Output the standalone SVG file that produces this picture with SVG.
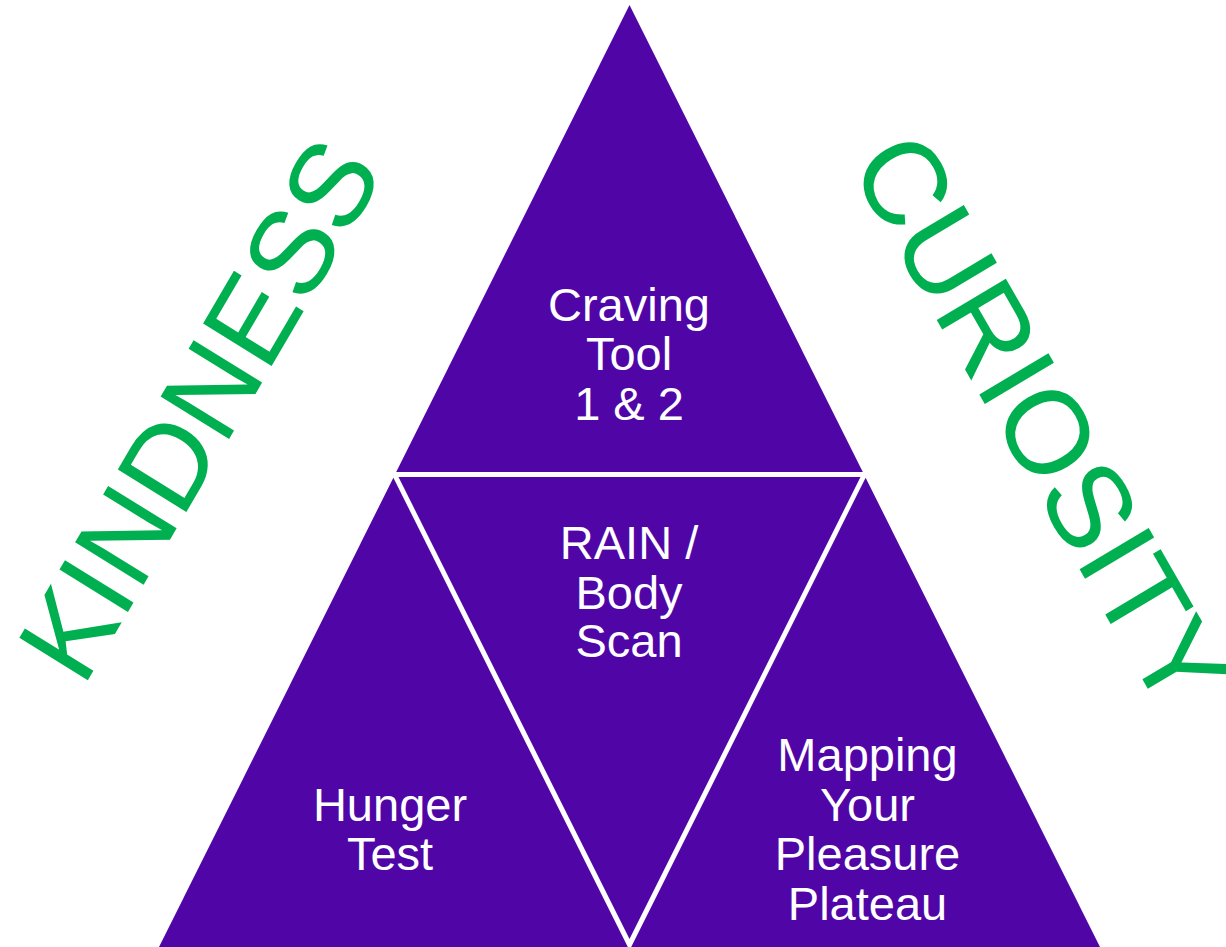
<svg xmlns="http://www.w3.org/2000/svg" width="1226" height="947" viewBox="0 0 1226 947">
  <style>
    .tri { fill: #5006A7; }
    .lbl { font-family: "Liberation Sans", Arial, sans-serif; font-size: 47px; fill: #FFFFFF; text-anchor: middle; }
    .word { font-family: "Liberation Sans", Arial, sans-serif; font-size: 117px; fill: #00B050; }
  </style>
  <rect x="0" y="0" width="1226" height="947" fill="#FFFFFF"/>
  <g id="connectors"></g>
  <g id="node-top">
    <polygon class="tri" points="629.5,5 396.2,472 862.8,472"/>
    <text class="lbl" x="629" y="320.5">Craving</text>
    <text class="lbl" x="629" y="370">Tool</text>
    <text class="lbl" x="629" y="420">1 &amp; 2</text>
  </g>
  <g id="node-middle">
    <polygon class="tri" points="398.5,477 860.5,477 629.5,939"/>
    <text class="lbl" x="629" y="559">RAIN /</text>
    <text class="lbl" x="629" y="609">Body</text>
    <text class="lbl" x="629" y="657">Scan</text>
  </g>
  <g id="node-left">
    <polygon class="tri" points="393.4,477.7 158.5,948 628.3,948"/>
    <text class="lbl" x="390" y="821">Hunger</text>
    <text class="lbl" x="390" y="869.5">Test</text>
  </g>
  <g id="node-right">
    <polygon class="tri" points="865.6,477.7 630.7,948 1100.5,948"/>
    <text class="lbl" x="867.5" y="771">Mapping</text>
    <text class="lbl" x="867.5" y="821">Your</text>
    <text class="lbl" x="867.5" y="870">Pleasure</text>
    <text class="lbl" x="867.5" y="919.5">Plateau</text>
  </g>
  <g id="kindness">
    <text class="word" transform="translate(83,688.5) rotate(-59.67) skewX(-1.4)">KINDNESS</text>
  </g>
  <g id="curiosity">
    <text class="word" transform="translate(848.2,165.2) rotate(60.22) skewX(1.1)">CURIOSITY</text>
  </g>
</svg>
